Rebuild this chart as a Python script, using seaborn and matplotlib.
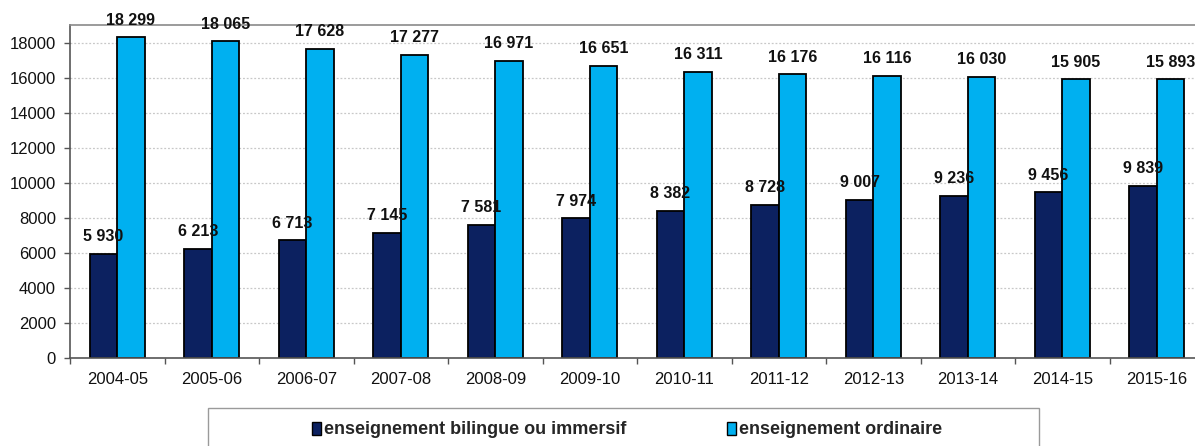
import matplotlib
matplotlib.use("Agg")
import matplotlib.pyplot as plt
import seaborn as sns
import pandas as pd
import numpy as np
from matplotlib.patches import Rectangle, Patch

years = ["2004-05", "2005-06", "2006-07", "2007-08", "2008-09", "2009-10",
         "2010-11", "2011-12", "2012-13", "2013-14", "2014-15", "2015-16"]
bilingue = [5930, 6213, 6713, 7145, 7581, 7974, 8382, 8728, 9007, 9236, 9456, 9839]
ordinaire = [18299, 18065, 17628, 17277, 16971, 16651, 16311, 16176, 16116, 16030, 15905, 15893]
series_names = ["enseignement bilingue ou immersif", "enseignement ordinaire"]
colors = ["#0c2160", "#00b0f0"]

df = pd.DataFrame({
    "year": years * 2,
    "value": bilingue + ordinaire,
    "serie": [series_names[0]] * len(years) + [series_names[1]] * len(years),
})

sns.set_theme(style="white")
plt.rcParams["font.family"] = ["Liberation Sans", "DejaVu Sans"]

W, H = 1195, 446
fig = plt.figure(figsize=(W / 100, H / 100), dpi=100)
x0, x1, ytop, ybot = 70, 1204, 25, 358
ax = fig.add_axes([x0 / W, (H - ybot) / H, (x1 - x0) / W, (ybot - ytop) / H])

sns.barplot(data=df, x="year", y="value", hue="serie", order=years,
            hue_order=series_names, palette=colors, width=0.58, gap=0,
            edgecolor="black", linewidth=1.3, saturation=1, ax=ax, legend=False)

ax.set_xlim(-0.5, 11.5)
ax.set_ylim(0, 19000)
ax.set_yticks(np.arange(0, 18001, 2000))
ax.set_xlabel("")
ax.set_ylabel("")
ax.yaxis.grid(True, linestyle=(0, (1.5, 1.5)), color="#c8c8c8", linewidth=0.9)
ax.set_axisbelow(True)

for s in ["top", "right"]:
    ax.spines[s].set_color("#8a8a8a")
    ax.spines[s].set_linewidth(1.2)
for s in ["left", "bottom"]:
    ax.spines[s].set_color("#555555")
    ax.spines[s].set_linewidth(1.2)

ax.tick_params(axis="y", which="major", direction="out", length=4, width=1,
               color="#555555", labelsize=12, pad=6, left=True, labelcolor="#111111")
ax.tick_params(axis="x", which="major", length=0, labelsize=12, pad=10, labelcolor="#111111")
ax.set_xticks(np.arange(-0.5, 12, 1), minor=True)
ax.tick_params(axis="x", which="minor", direction="out", length=4, width=1,
               color="#555555", bottom=True)

# value labels
for container in ax.containers:
    labels = [f"{int(v):,}".replace(",", " ") for v in container.datavalues]
    ax.bar_label(container, labels=labels, padding=7, fontsize=11.5,
                 fontweight="bold", color="#111111", clip_on=False)

# legend frame (partially cropped at bottom)
fig.patches.append(Rectangle((208 / W, -0.1), (1039 - 208) / W, (H - 408) / H + 0.1,
                             transform=fig.transFigure, fill=False,
                             edgecolor="#9a9a9a", linewidth=1.0))
handles = [Patch(facecolor=c, edgecolor="black", linewidth=1.0) for c in colors]
fig.legend(handles, series_names, loc="center", bbox_to_anchor=(627 / W, (H - 430) / H),
           ncol=2, frameon=False, handlelength=0.5, handleheight=0.7,
           handletextpad=0.15, columnspacing=5.6,
           prop={"weight": "bold", "size": 13})

fig.savefig("out.png", dpi=100)
